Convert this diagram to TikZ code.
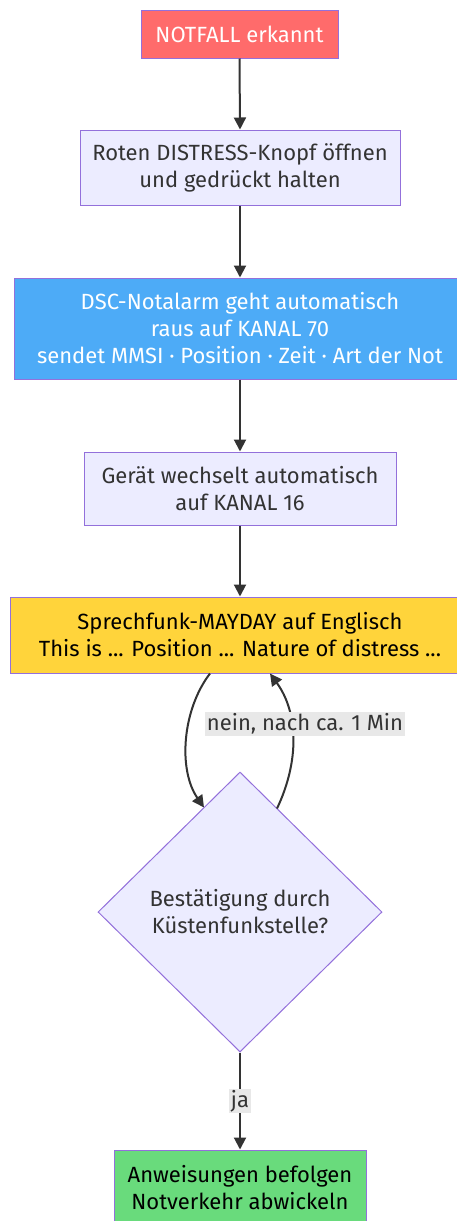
\documentclass[tikz,border=0pt]{standalone}
\usepackage{fontspec}
\setmainfont{Fira Sans}
\usetikzlibrary{shapes.geometric,arrows.meta}
\definecolor{nred}{HTML}{FF6B6B}
\definecolor{nblue}{HTML}{4DABF7}
\definecolor{ngold}{HTML}{FFD43B}
\definecolor{ngreen}{HTML}{69DB7C}
\definecolor{nlav}{HTML}{ECECFF}
\definecolor{nborder}{HTML}{9370DB}
\definecolor{nedge}{HTML}{333333}
\definecolor{nlabel}{HTML}{E8E8E8}
\begin{document}
\begin{tikzpicture}[x=1pt,y=-1pt,
  box/.style={draw=nborder, line width=1pt, rectangle, align=center, inner sep=0pt,
    font=\fontsize{22}{27}\selectfont},
  dia/.style={draw=nborder, line width=1pt, diamond, align=center, inner sep=0pt,
    fill=nlav, font=\fontsize{22}{27}\selectfont},
  edge/.style={draw=nedge, line width=2pt, -{Triangle[length=12pt,width=12pt]}},
  elabel/.style={fill=nlabel, inner sep=1.5pt, font=\fontsize{22}{24}\selectfont, text=nedge}
]
\useasboundingbox (0,0) rectangle (457,1221);
\fill[white] (0,0) rectangle (457,1221);

\node[box, fill=nred, text=white, minimum width=197pt, minimum height=48pt] (a) at (239.5,34) {NOTFALL erkannt};
\node[box, fill=nlav, text=nedge, minimum width=320pt, minimum height=75pt] (b) at (240,167.5) {Roten DISTRESS-Knopf öffnen\\und gedrückt halten};
\node[box, fill=nblue, text=white, minimum width=452pt, minimum height=101pt] (c) at (240,328.5) {DSC-Notalarm geht automatisch\\raus auf KANAL 70\\sendet MMSI · Position · Zeit · Art der Not};
\node[box, fill=nlav, text=nedge, minimum width=312pt, minimum height=73pt] (d) at (240,488.5) {Gerät wechselt automatisch\\auf KANAL 16};
\node[box, fill=ngold, text=black, minimum width=460pt, minimum height=76pt] (e) at (240,635) {Sprechfunk-MAYDAY auf Englisch\\This is ... Position ... Nature of distress ...};
\node[dia, text=nedge, minimum width=284pt, minimum height=280pt] (f) at (240,912) {Bestätigung durch\\Küstenfunkstelle?};
\node[box, fill=ngreen, text=black, minimum width=252pt, minimum height=76pt] (g) at (240,1188) {Anweisungen befolgen\\Notverkehr abwickeln};

\draw[edge] (a.south) -- (b.north);
\draw[edge] (b.south) -- (c.north);
\draw[edge] (c.south) -- (d.north);
\draw[edge] (d.south) -- (e.north);
\draw[edge] ([xshift=-30pt]e.south) .. controls (182,710) and (178,770) .. ([xshift=-36pt,yshift=-36pt]f.north);
\draw[edge] ([xshift=37pt,yshift=-37pt]f.north) .. controls (300,760) and (298,712) .. ([xshift=30pt]e.south);
\node[elabel] (l1) at (305,724) {nein, nach ca. 1 Min};
\draw[edge] (f.south) -- node[elabel] (l2) {ja} (g.north);
\end{tikzpicture}
\end{document}
